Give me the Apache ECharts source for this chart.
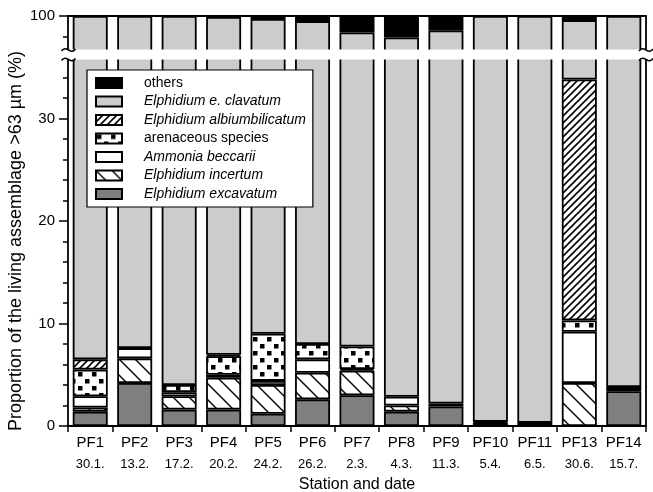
<!DOCTYPE html>
<html><head><meta charset="utf-8">
<script src="https://cdn.jsdelivr.net/npm/echarts@6/dist/echarts.min.js"></script>
<style>html,body{margin:0;padding:0;background:#fff}#c{width:653px;height:492px}</style>
</head><body><div id="c"></div>
<script>
// ---- data (percent of living assemblage > 63 µm) ----
const stations = ['PF1','PF2','PF3','PF4','PF5','PF6','PF7','PF8','PF9','PF10','PF11','PF13','PF14'];
const dates    = ['30.1.','13.2.','17.2.','20.2.','24.2.','26.2.','2.3.','4.3.','11.3.','5.4.','6.5.','30.6.','15.7.'];
const excavatum      = [1.4, 4.2, 1.6, 1.6, 1.2, 2.6, 3.0, 1.4, 1.9, 0,   0.3, 0,    3.4];
const incertum       = [0.4, 2.4, 1.3, 3.1, 2.8, 2.6, 2.4, 0.6, 0,   0,   0,   4.2,  0.2];
const beccarii       = [1.1, 1.0, 0.4, 0.3, 0.4, 1.3, 0.15,0.85,0.3, 0.3, 0,   5.0,  0];
const arenaceous     = [2.6, 0,   0.7, 1.8, 4.6, 1.5, 2.2, 0,   0,   0.1, 0,   1.1,  0.2];
const albiumbilicatum= [1.0, 0,   0,   0.15,0,   0,   0,   0,   0,   0,   0,   23.5, 0];
const clavatum       = [93.5,92.4,96.0,92.95,90.7,91.5,90.65,95.05,96.4,99.6,99.7,65.8,96.2];
const others         = [0,   0,   0,   0.1, 0.3, 0.5, 1.6, 2.1, 1.4, 0,   0,   0.4,  0];
const lowerLabels = [0, 10, 20, 30];
const lowerTicks  = [0,2,4,6,8,10,12,14,16,18,20,22,24,26,28,30,32,34];
const upperLabels = [100];
const upperTicks  = [98];

// ---- patterns ----
function pat(w, h, draw) {
  const c = document.createElement('canvas'); c.width = w; c.height = h;
  const g = c.getContext('2d'); g.fillStyle = '#fff'; g.fillRect(0,0,w,h);
  g.strokeStyle = '#000'; g.fillStyle = '#000'; draw(g, w, h);
  return {image: c, repeat: 'repeat'};
}
const fwdHatch = pat(7, 7, (g,w,h)=>{ g.lineWidth = 1.6; g.beginPath();
  g.moveTo(-1, h+1); g.lineTo(w+1, -1); g.moveTo(-2, 2); g.lineTo(2, -2); g.moveTo(w-2, h+2); g.lineTo(w+2, h-2); g.stroke(); });
const backHatch = pat(16, 16, (g,w,h)=>{ g.lineWidth = 1.4; g.beginPath();
  g.moveTo(-1, -1); g.lineTo(w+1, h+1); g.moveTo(-3, h-3); g.lineTo(3, h+3); g.moveTo(w-3, -3); g.lineTo(w+3, 3); g.stroke(); });
const dots = pat(14, 14, (g)=>{ g.fillRect(1,1,4.5,4.5); g.fillRect(8,8,4.5,4.5); });

const FONT = '"Liberation Sans", Arial, Helvetica, sans-serif';
const layers = [
  {name:'Elphidium excavatum', data: excavatum, color:'#7f7f7f', italic:true},
  {name:'Elphidium incertum', data: incertum, color: backHatch, italic:true},
  {name:'Ammonia beccarii', data: beccarii, color:'#ffffff', italic:true},
  {name:'arenaceous species', data: arenaceous, color: dots, italic:false},
  {name:'Elphidium albiumbilicatum', data: albiumbilicatum, color: fwdHatch, italic:true},
  {name:'Elphidium e. clavatum', data: clavatum, color:'#cccccc', italic:true},
  {name:'others', data: others, color:'#000000', italic:false}
];

const series = [];
[[0,0],[1,3]].forEach(([xi, yi]) => {
  layers.forEach(L => series.push({
    type:'bar', name:L.name, stack:'s'+xi, xAxisIndex:xi, yAxisIndex:yi,
    barWidth:35, clip:true, silent:true,
    data: L.data.map(v => v > 0 ? v : null),
    itemStyle:{color:L.color, borderColor:'#000', borderWidth:1.8}
  }));
});

const axisLineStyle = {show:true, lineStyle:{color:'#000', width:1.8}};
const none = {show:false};
function yAx(grid, pos, min, max, extra) {
  return Object.assign({type:'value', gridIndex:grid, position:pos, min, max,
    axisLine:{show:false}, axisTick:{show:false}, axisLabel:{show:false}, splitLine:none}, extra);
}
const LOW_MAX = 36.29, UP_MIN = 96.195;

const option = {
  animation:false,
  textStyle:{fontFamily:FONT},
  grid:[
    {left:68, right:7, top:54, height:372, outerBoundsMode:'none', containLabel:false},
    {left:68, right:7, top:16, height:39, outerBoundsMode:'none', containLabel:false}
  ],
  xAxis:[
    {type:'category', gridIndex:0, data:stations, position:'bottom',
     axisLine:axisLineStyle,
     axisTick:{show:true, length:6, lineStyle:{color:'#000', width:1.5}},
     axisLabel:{margin:7, interval:0, color:'#000', fontFamily:FONT,
       formatter:(v,i)=>'{a|'+v+'}\n{b|'+dates[i]+'}',
       rich:{a:{fontSize:15, lineHeight:20, color:'#000', fontFamily:FONT},
             b:{fontSize:13, lineHeight:22, color:'#000', fontFamily:FONT}}},
     name:'Station and date', nameLocation:'middle', nameGap:51,
     nameTextStyle:{fontSize:16, color:'#000', fontFamily:FONT}},
    {type:'category', gridIndex:1, data:stations, position:'top',
     axisLine:{show:true, lineStyle:{color:'#000', width:2.2}}, axisTick:none, axisLabel:none}
  ],
  yAxis:[
    yAx(0,'left',0,LOW_MAX,{axisLine:axisLineStyle,
      axisTick:{show:true, length:5, customValues:lowerTicks, lineStyle:{color:'#000', width:1.5}}}),
    yAx(0,'left',0,LOW_MAX,{
      axisTick:{show:true, length:9, customValues:lowerLabels, lineStyle:{color:'#000', width:1.5}},
      axisLabel:{show:true, customValues:lowerLabels, margin:13, fontSize:15, color:'#000', fontFamily:FONT}}),
    yAx(0,'right',0,LOW_MAX,{axisLine:axisLineStyle}),
    yAx(1,'left',UP_MIN,100,{axisLine:axisLineStyle,
      axisTick:{show:true, length:5, customValues:upperTicks, lineStyle:{color:'#000', width:1.5}}}),
    yAx(1,'left',UP_MIN,100,{
      axisTick:{show:true, length:9, customValues:upperLabels, lineStyle:{color:'#000', width:1.5}},
      axisLabel:{show:true, customValues:upperLabels, margin:13, fontSize:15, color:'#000', fontFamily:FONT}}),
    yAx(1,'right',UP_MIN,100,{axisLine:axisLineStyle})
  ],
  legend:{
    orient:'vertical', left:87, top:70, itemWidth:26, itemHeight:10, itemGap:3.5, icon:'rect',
    padding:[5.5, 7, 5.5, 8], backgroundColor:'#fff', borderColor:'#000', borderWidth:1.2,
    selectedMode:false,
    textStyle:{fontSize:14, lineHeight:15, color:'#000', fontFamily:FONT, padding:[0,0,0,17]},
    data: layers.slice().reverse().map(L => ({name:L.name, textStyle:{fontStyle: L.italic ? 'italic' : 'normal'}}))
  },
  graphic:[
    {type:'rect', z:100, shape:{x:55, y:49.5, width:598, height:10}, style:{fill:'#fff'}},
    ...[[68.5,50],[68.5,59.5],[646,50],[646,59.5]].map(([x,y]) => ({
      type:'bezierCurve', z:101,
      shape:{x1:x-7, y1:y+1, cpx1:x-2, cpy1:y-6, cpx2:x+2, cpy2:y+6, x2:x+7, y2:y-1},
      style:{stroke:'#000', lineWidth:1.5, fill:null}})),
    {type:'text', z:101, x:16, y:241, rotation:Math.PI/2,
     style:{text:'Proportion of the living assemblage >63 µm (%)', fontSize:18, fontFamily:FONT,
            fill:'#000', align:'center', verticalAlign:'middle'}}
  ],
  series
};
const chart = echarts.init(document.getElementById('c'), null, {renderer:'canvas'});
chart.setOption(option);
</script></body></html>
